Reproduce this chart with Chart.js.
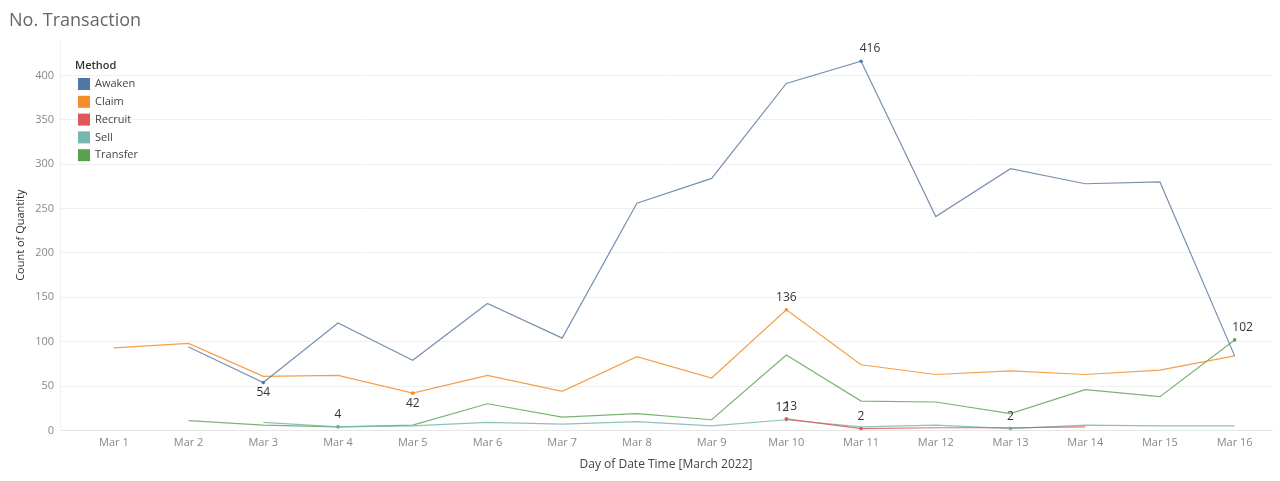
<!DOCTYPE html>
<html>
<head>
<meta charset="utf-8">
<script src="https://cdn.jsdelivr.net/npm/chart.js@4.4.1/dist/chart.umd.min.js"></script>
<style>
  html, body { margin: 0; padding: 0; background: #fff; }
  #wrap { width: 1280px; height: 481px; position: relative; }
</style>
</head>
<body>
<div id="wrap"><canvas id="trendChart"></canvas></div>
<script>
const days = ["Mar 1", "Mar 2", "Mar 3", "Mar 4", "Mar 5", "Mar 6", "Mar 7", "Mar 8",
  "Mar 9", "Mar 10", "Mar 11", "Mar 12", "Mar 13", "Mar 14", "Mar 15", "Mar 16"];
const yTicks = [0, 50, 100, 150, 200, 250, 300, 350, 400];

const awaken = [null, 94, 54, 121, 79, 143, 104, 256, 284, 391, 416, 241, 295, 278, 280, 84];
const claim = [93, 98, 61, 62, 42, 62, 44, 83, 59, 136, 74, 63, 67, 63, 68, 84];
const recruit = [null, null, null, null, null, null, null, null, null, 13, 2, 3, 3, 4, null, null];
const sell = [null, null, 9, 4, 5, 9, 7, 10, 5, 12, 4, 6, 2, 6, 5, 5];
const transfer = [null, 11, 6, 4, 6, 30, 15, 19, 12, 85, 33, 32, 19, 46, 38, 102];

const methods = ["Awaken", "Claim", "Recruit", "Sell", "Transfer"];
const colors = ["#4e79a7", "#f28e2b", "#e15759", "#76b7b2", "#59a14f"];
const lineColors = ["rgba(88,118,158,0.8)", "rgba(242,142,43,0.85)", "rgba(225,87,89,0.85)",
  "rgba(118,183,178,0.85)", "rgba(89,161,79,0.8)"];
const series = [awaken, claim, recruit, sell, transfer];

// label tweaks: where min sits below line, small x shift for peak labels
const labelStyle = {
  Awaken: { minBelow: true, maxDx: 9 },
  Claim: { minBelow: true, maxDx: 0 },
  Recruit: { minBelow: false, maxDx: 4 },
  Sell: { minBelow: false, maxDx: -4 },
  Transfer: { minBelow: false, maxDx: 8 },
};

const FONT = "'Open Sans', 'Noto Sans', sans-serif";

function extremes(arr) {
  let mn = -1, mx = -1;
  arr.forEach((v, i) => {
    if (v == null) return;
    if (mn < 0 || v < arr[mn]) mn = i;
    if (mx < 0 || v > arr[mx]) mx = i;
  });
  return { mn, mx };
}

const datasets = series.map((arr, k) => {
  const ex = extremes(arr);
  return {
    label: methods[k],
    data: arr.map((v, i) => ({ x: i, y: v })),
    borderColor: lineColors[k],
    backgroundColor: colors[k],
    borderWidth: 1.2,
    tension: 0,
    spanGaps: false,
    pointRadius: (ctx) => (ctx.dataIndex === ex.mn || ctx.dataIndex === ex.mx ? 1.8 : 0),
    pointBorderWidth: 0,
    pointBackgroundColor: colors[k],
    pointHoverRadius: 0,
  };
});

const extraDraw = {
  id: "extraDraw",
  afterDatasetsDraw(chart) {
    const c = chart.ctx;
    c.save();
    c.font = "12px " + FONT;
    c.fillStyle = "#333";
    c.textAlign = "center";
    chart.data.datasets.forEach((ds, k) => {
      const meta = chart.getDatasetMeta(k);
      const arr = series[k];
      const ex = extremes(arr);
      const st = labelStyle[ds.label];
      [ex.mn, ex.mx].forEach((idx, j) => {
        const pt = meta.data[idx];
        if (!pt) return;
        const isMin = j === 0;
        let dy = -9, dx = 0;
        if (isMin && st.minBelow) dy = 14;
        if (!isMin) dx = st.maxDx;
        c.textBaseline = "alphabetic";
        c.fillText(String(arr[idx]), pt.x + dx, pt.y + dy);
      });
    });
    c.restore();
  },
  afterDraw(chart) {
    const c = chart.ctx;
    c.save();
    // title
    c.font = "18px " + FONT;
    c.fillStyle = "#666";
    c.textAlign = "left";
    c.textBaseline = "middle";
    c.fillText("No. Transaction", 9, 21);
    // legend
    c.font = "600 11px " + FONT;
    c.fillStyle = "#333";
    c.fillText("Method", 75, 66);
    c.font = "11px " + FONT;
    methods.forEach((m, i) => {
      const y = 84 + i * 17.8;
      c.fillStyle = colors[i];
      c.fillRect(78, y - 6, 12, 12);
      c.fillStyle = "#444";
      c.fillText(m, 95, y);
    });
    c.restore();
  },
};

new Chart(document.getElementById("trendChart"), {
  type: "line",
  data: { datasets },
  plugins: [extraDraw],
  options: {
    responsive: true,
    maintainAspectRatio: false,
    animation: false,
    layout: { padding: { top: 40, right: 8, left: 10, bottom: 5 } },
    plugins: { legend: { display: false }, tooltip: { enabled: false } },
    scales: {
      x: {
        type: "linear",
        min: -0.72,
        max: 15.5,
        afterBuildTicks: (s) => { s.ticks = days.map((d, i) => ({ value: i })); },
        ticks: {
          callback: (v) => days[v] || "",
          color: "#888",
          font: { size: 11, family: FONT },
          maxRotation: 0,
          padding: 6,
        },
        grid: { display: false, drawTicks: false },
        border: { color: "#e6e6e6" },
        title: {
          display: true,
          text: "Day of Date Time [March 2022]",
          color: "#444",
          font: { size: 12, family: FONT },
          padding: { top: 2 },
        },
      },
      y: {
        min: 0,
        max: 440,
        afterBuildTicks: (s) => { s.ticks = yTicks.map((v) => ({ value: v })); },
        ticks: {
          color: "#888",
          font: { size: 11, family: FONT },
          padding: 6,
        },
        grid: { color: "#f0f0f0", drawTicks: false },
        border: { color: "#f0f0f0" },
        title: {
          display: true,
          text: "Count of Quantity",
          color: "#333",
          font: { size: 11, family: FONT },
          padding: { bottom: 2 },
        },
      },
    },
  },
});
</script>
</body>
</html>
